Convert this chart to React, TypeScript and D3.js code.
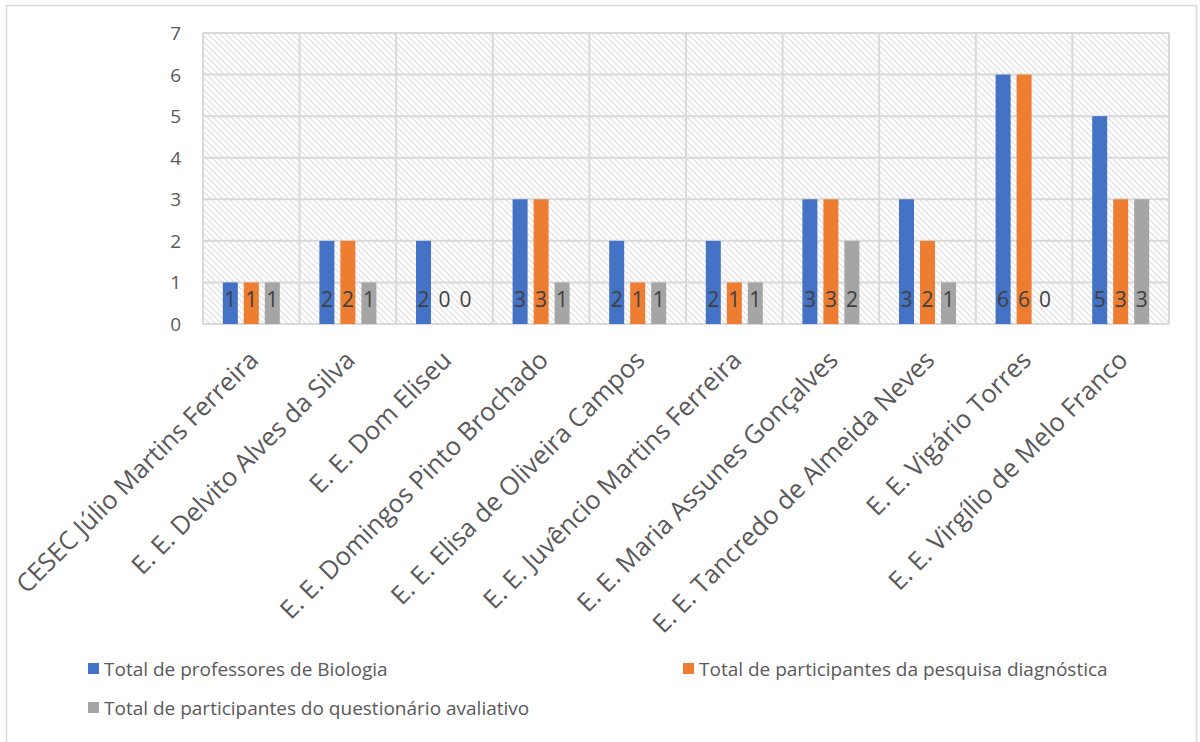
import React from "react";
import * as d3 from "d3";

const categories = [
  "CESEC Júlio Martins Ferreira",
  "E. E. Delvito Alves da Silva",
  "E. E. Dom Eliseu",
  "E. E. Domingos Pinto Brochado",
  "E. E. Elisa de Oliveira Campos",
  "E. E. Juvêncio Martins Ferreira",
  "E. E. Maria Assunes Gonçalves",
  "E. E. Tancredo de Almeida Neves",
  "E. E. Vigário Torres",
  "E. E. Virgílio de Melo Franco",
];
const seriesNames = [
  "Total de professores de Biologia",
  "Total de participantes da pesquisa diagnóstica",
  "Total de participantes do questionário avaliativo",
];
const professores = [1, 2, 2, 3, 2, 2, 3, 3, 6, 5];
const pesquisa = [1, 2, 0, 3, 1, 1, 3, 2, 6, 3];
const questionario = [1, 1, 0, 1, 1, 1, 2, 1, 0, 3];
const yTicks = [0, 1, 2, 3, 4, 5, 6, 7];
const colors = ["#4472C4", "#ED7D31", "#A5A5A5"];

const W = 1200;
const H = 742;
const plot = { left: 203, right: 1169, top: 33, bottom: 324 };
const FONT = "'Open Sans', sans-serif";

export default function App() {
  const seriesValues = [professores, pesquisa, questionario];
  const x = d3.scaleBand<string>().domain(categories).range([plot.left, plot.right]).padding(0);
  const y = d3.scaleLinear().domain([0, 7]).range([plot.bottom, plot.top]);
  const bw = x.bandwidth();
  const groupW = 57;
  const xs = d3
    .scaleBand<string>()
    .domain(seriesNames)
    .range([(bw - groupW) / 2, (bw + groupW) / 2])
    .paddingInner(6 / 21)
    .paddingOuter(0);

  const legendItems = [
    { name: seriesNames[0], x: 88, y: 669, c: colors[0] },
    { name: seriesNames[1], x: 683, y: 669, c: colors[1] },
    { name: seriesNames[2], x: 88, y: 708, c: colors[2] },
  ];

  return (
    <svg
      width={W}
      height={H}
      style={{ position: "absolute", left: 0, top: 0, background: "#fff" }}
      fontFamily={FONT}
    >
      <defs>
        <pattern id="hatch" patternUnits="userSpaceOnUse" width="6" height="6">
          <rect width="6" height="6" fill="#ffffff" />
          <path d="M-1,-1 L7,7 M-1,5 L1,7 M5,-1 L7,1" stroke="#dedede" strokeWidth="1.1" />
        </pattern>
      </defs>
      <rect x={6.5} y={5.5} width={1190} height={770} fill="#fff" stroke="#d9d9d9" strokeWidth={1.5} />
      <rect
        x={plot.left}
        y={plot.top}
        width={plot.right - plot.left}
        height={plot.bottom - plot.top}
        fill="url(#hatch)"
      />
      {/* horizontal gridlines */}
      {yTicks.map((t) => (
        <line key={"h" + t} x1={plot.left} x2={plot.right} y1={y(t)} y2={y(t)} stroke="#d9d9d9" strokeWidth={2} />
      ))}
      {/* vertical gridlines */}
      {categories.map((c) => (
        <line key={"v" + c} x1={x(c)!} x2={x(c)!} y1={plot.top} y2={plot.bottom} stroke="#d9d9d9" strokeWidth={2} />
      ))}
      <line x1={plot.right} x2={plot.right} y1={plot.top} y2={plot.bottom} stroke="#d9d9d9" strokeWidth={2} />
      {/* y tick labels */}
      {yTicks.map((t) => (
        <text key={"yl" + t} x={181} y={y(t)} textAnchor="end" dominantBaseline="central" fontSize={19} fill="#595959">
          {t}
        </text>
      ))}
      {/* bars */}
      {seriesValues.map((vals, si) =>
        vals.map((v, ci) => {
          const bx = x(categories[ci])! + xs(seriesNames[si])!;
          return (
            <g key={`b${si}-${ci}`}>
              {v > 0 && (
                <rect x={bx} y={y(v)} width={xs.bandwidth()} height={y(0) - y(v)} fill={colors[si]} />
              )}
              <text
                x={bx + xs.bandwidth() / 2}
                y={y(0) - 17}
                textAnchor="middle"
                fontSize={21}
                fill="#404040"
              >
                {v}
              </text>
            </g>
          );
        })
      )}
      {/* category labels */}
      {categories.map((c) => {
        const cx = x(c)! + bw / 2;
        return (
          <text
            key={"cl" + c}
            transform={`translate(${cx - 4},${349}) rotate(-45)`}
            textAnchor="end"
            dy="0.7em"
            fontSize={25.5}
            fill="#595959"
          >
            {c}
          </text>
        );
      })}
      {/* legend */}
      {legendItems.map((l) => (
        <g key={l.name}>
          <rect x={l.x} y={l.y - 6} width={11} height={11} fill={l.c} />
          <text x={l.x + 16} y={l.y} dominantBaseline="central" fontSize={19} fill="#595959">
            {l.name}
          </text>
        </g>
      ))}
    </svg>
  );
}
